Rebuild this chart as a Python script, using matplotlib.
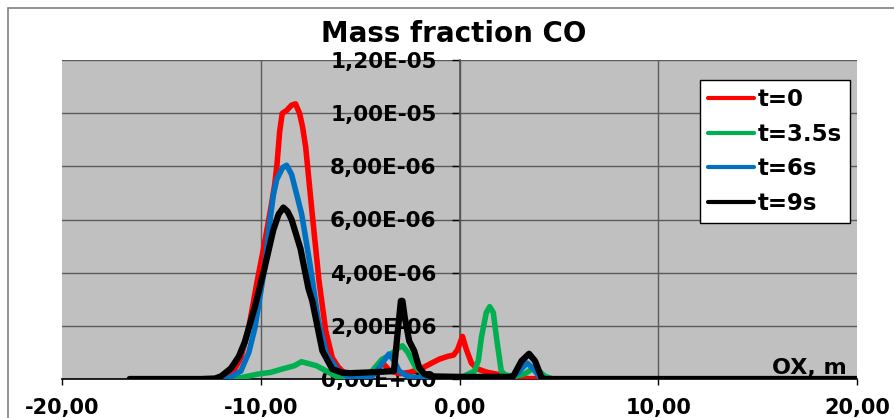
import numpy as np
import matplotlib
matplotlib.use("Agg")
import matplotlib.pyplot as plt
from matplotlib.patches import Rectangle

plt.rcParams['font.family'] = ['DejaVu Sans']
plt.rcParams['font.weight'] = 'bold'

# ---- data (x in m, y in units of 1e-6 mass fraction) ----
t0_x = [-12.0, -11.45, -11.0, -10.6, -10.2, -9.85, -9.5, -9.3, -9.18, -9.05, -8.92, -8.7,
        -8.45, -8.25, -8.05, -7.9, -7.74, -7.41, -7.07, -6.73, -6.4, -6.1, -5.9, -5.5,
        -5.0, -4.5, -4.1, -3.8, -3.5, -3.0, -2.5, -1.9, -1.4, -1.0, -0.6, -0.3, -0.1,
        0.15, 0.35, 0.6, 0.9, 1.4, 1.9, 2.5, 3.0, 4.5]
t0_y = [0.0, 0.18, 0.8, 1.94, 3.6, 4.95, 6.4, 7.3, 8.1, 9.3, 9.99, 10.1,
        10.3, 10.35, 10.0, 9.5, 8.73, 6.21, 3.7, 1.81, 0.8, 0.45, 0.3, 0.1,
        0.05, 0.15, 0.5, 0.55, 0.3, 0.2, 0.25, 0.4, 0.6, 0.75, 0.85, 0.9, 1.1,
        1.6, 1.1, 0.6, 0.38, 0.25, 0.18, 0.05, 0.02, 0.0]

t35_x = [-12.0, -11.0, -10.1, -9.5, -8.8, -8.3, -7.95, -7.6, -7.2, -6.7, -6.2, -5.5,
         -4.8, -4.4, -3.9, -3.5, -3.1, -2.87, -2.6, -2.2, -1.9, -1.6, -1.0, 0.0, 0.76,
         0.95, 1.1, 1.35, 1.52, 1.7, 1.86, 2.1, 2.3, 2.8, 3.3, 3.7, 4.0, 4.3, 4.7]
t35_y = [0.0, 0.05, 0.19, 0.25, 0.4, 0.5, 0.65, 0.58, 0.5, 0.3, 0.1, 0.02,
         0.05, 0.3, 0.74, 0.9, 1.15, 1.25, 1.0, 0.43, 0.25, 0.1, 0.05, 0.03, 0.3,
         0.7, 1.56, 2.5, 2.72, 2.5, 1.56, 0.3, 0.15, 0.1, 0.2, 0.4, 0.3, 0.1, 0.0]

t6_x = [-12.0, -11.6, -11.0, -10.6, -10.3, -9.8, -9.6, -9.37, -9.2, -8.9, -8.7, -8.45,
        -8.28, -7.94, -7.52, -7.1, -6.7, -6.1, -5.5, -4.5, -4.2, -3.9, -3.55, -3.3,
        -3.04, -2.6, -2.0, 0.0, 2.5, 2.9, 3.2, 3.4, 3.7, 4.0, 4.3]
t6_y = [0.0, 0.03, 0.3, 1.0, 1.9, 4.2, 5.6, 6.9, 7.5, 7.95, 8.04, 7.7,
        7.2, 6.2, 4.3, 2.19, 0.94, 0.3, 0.05, 0.05, 0.25, 0.6, 0.94, 0.7,
        0.3, 0.1, 0.05, 0.02, 0.05, 0.2, 0.45, 0.6, 0.4, 0.1, 0.0]

t9_x = [-16.6, -13.0, -12.3, -12.0, -11.5, -11.1, -10.8, -10.3, -9.8, -9.37, -9.1, -8.86,
        -8.65, -8.45, -8.0, -7.6, -7.41, -6.9, -6.4, -5.9, -5.5, -4.5, -3.7, -3.3, -3.12,
        -2.95, -2.87, -2.75, -2.53, -2.28, -2.03, -1.77, -1.4, 0.0, 2.5, 2.7, 3.12, 3.5,
        3.8, 4.13, 4.3, 20.0]
t9_y = [0.0, 0.0, 0.02, 0.1, 0.4, 0.85, 1.4, 2.7, 4.2, 5.6, 6.2, 6.45,
        6.3, 6.0, 4.9, 3.4, 2.94, 1.06, 0.37, 0.24, 0.22, 0.25, 0.28, 0.3, 1.69,
        2.94, 2.94, 2.3, 1.43, 1.06, 0.43, 0.19, 0.1, 0.08, 0.08, 0.1, 0.68, 0.95,
        0.68, 0.05, 0.0, 0.0]

series_labels = ["t=0", "t=3.5s", "t=6s", "t=9s"]
series_colors = ["#FF0000", "#00B050", "#0070C0", "#000000"]

x_ticks = [-20, -10, 0, 10, 20]
x_tick_labels = ["-20,00", "-10,00", "0,00", "10,00", "20,00"]
y_ticks = [0.0, 2e-6, 4e-6, 6e-6, 8e-6, 1e-5, 1.2e-5]
y_tick_labels = ["0,00E+00", "2,00E-06", "4,00E-06", "6,00E-06", "8,00E-06",
                 "1,00E-05", "1,20E-05"]

# ---- figure ----
W, H = 894, 418
fig = plt.figure(figsize=(W / 100, H / 100), dpi=100)
ax = fig.add_axes([62 / W, 1 - 379 / H, (857 - 62) / W, (379 - 60) / H])
ax.set_facecolor("#C0C0C0")

series = [(t0_x, t0_y), (t35_x, t35_y), (t6_x, t6_y), (t9_x, t9_y)]
widths = [4.0, 4.0, 4.0, 4.5]
for (xs, ys), lab, col, lw in zip(series, series_labels, series_colors, widths):
    ax.plot(xs, np.array(ys) * 1e-6, color=col, lw=lw, label=lab, zorder=3,
            solid_joinstyle="round", solid_capstyle="round")

ax.set_xlim(-20, 20)
ax.set_ylim(0, 1.2e-5)
ax.set_xticks(x_ticks)
ax.set_xticklabels(x_tick_labels)
ax.set_yticks(y_ticks)
ax.set_yticklabels(y_tick_labels)

ax.set_axisbelow(True)
ax.grid(True, color="#5a5a5a", lw=1.0)
for gl in (ax.xaxis.get_gridlines()[0], ax.xaxis.get_gridlines()[-1],
           ax.yaxis.get_gridlines()[0], ax.yaxis.get_gridlines()[-1]):
    gl.set_visible(False)

for s in ("top", "right"):
    ax.spines[s].set_visible(False)
ax.spines["left"].set_position(("data", 0))
ax.spines["left"].set_color("#555555")
ax.spines["left"].set_linewidth(1.2)
ax.spines["bottom"].set_color("#000000")
ax.spines["bottom"].set_linewidth(1.2)

ax.tick_params(axis="x", direction="out", length=4, width=1, pad=10,
               labelsize=15, colors="#000000")
ax.tick_params(axis="y", direction="out", length=6, width=1, pad=10.5,
               labelsize=15.5, colors="#000000")
for lbl in ax.get_xticklabels() + ax.get_yticklabels():
    lbl.set_fontweight("bold")

ax.set_xlabel("OX, m", fontsize=16, fontweight="bold", loc="right")
ax.xaxis.label.set_va("bottom")
ax.xaxis.set_label_coords((847 - 62) / (857 - 62), 0.003)

ax.set_title("Mass fraction CO", fontsize=20, fontweight="bold",
             x=(454 - 62) / (857 - 62), pad=13)

leg = ax.legend(loc="upper right",
                bbox_to_anchor=((850 - 62) / (857 - 62), (379 - 80) / (379 - 60)),
                borderaxespad=0, frameon=True, fancybox=False, framealpha=1,
                edgecolor="#000000", facecolor="#FFFFFF",
                prop={"size": 16.5, "weight": "bold"},
                handlelength=2.0, handletextpad=0.15, labelspacing=0.5,
                borderpad=0.36)
leg.get_frame().set_linewidth(1.0)
leg.set_zorder(5)
for h in leg.get_lines():
    h.set_linewidth(3.0)

fig.add_artist(Rectangle((7.5 / W, -0.5), 2.0, 1.5 - 7.5 / H, transform=fig.transFigure,
                         fill=False, edgecolor="#808080", lw=1.2))

fig.savefig("out.png", dpi=100)
